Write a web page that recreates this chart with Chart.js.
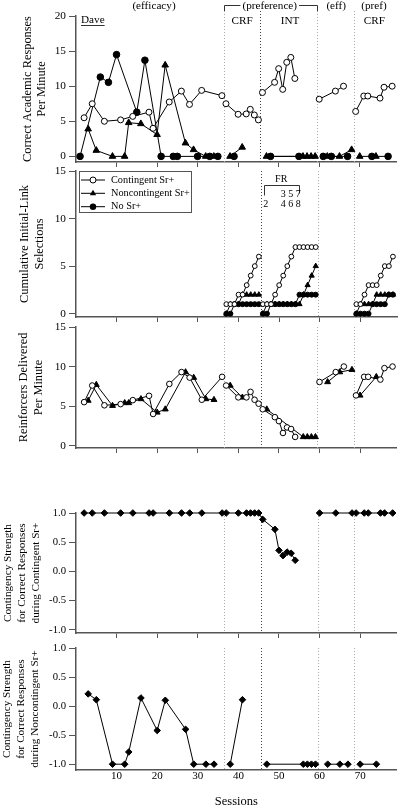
<!DOCTYPE html>
<html><head><meta charset="utf-8">
<script src="https://cdn.jsdelivr.net/npm/chart.js@4.4.1/dist/chart.umd.min.js"></script>
<style>
html,body{margin:0;padding:0;background:#fff;overflow:hidden;width:401px;height:805px;}
canvas{position:absolute;left:0;}
</style></head><body>
<canvas id="c1"></canvas><canvas id="c2"></canvas><canvas id="c3"></canvas><canvas id="c4"></canvas><canvas id="c5"></canvas>
<script>
// ---------- DATA ----------
const sessionTicks = [10,20,30,40,50,60,70];
const phaseLines = [36.5,45.5,59.5,68.5];
const rateTicks = [0,5,10,15,20];
const countTicks = [0,5,10,15];
const strengthTicks = [-1,-0.5,0,0.5,1];
const strengthTickLabels = ['-1.0','-0.5','0.0','0.5','1.0'];

// Panel 1: correct academic responses per minute
const rateContSessions = [2,4,7,11,14,18,19,23,26,28,31,36, 37,40,42,43,44,45, 46,49,50,51,52,53,54, 60,64,66, 69,71,72,75,76,78];
const rateContValues   = [5.5,7.5,5.0,5.2,5.7,6.3,4.0,7.75,9.3,7.4,9.4,8.65, 7.5,6.0,6.05,6.7,5.9,5.2, 9.1,10.55,12.5,9.55,13.4,14.1,11.1, 8.15,9.3,10.0, 6.4,8.6,8.6,8.3,9.85,10.0];
const rateNcSessions = [3,5,9,12,13,16,20,22,27,29,32,34, 38,41, 47,56,57,58,59, 62,65,68, 70,74];
const rateNcValues   = [3.9,0.85,0,0,4.8,4.65,3.1,13.0,1.9,0.95,0,0, 0,1.3, 0,0,0,0,0, 0,0,0.95, 0,0];
const rateNoSessions = [1,6,8,10,15,17,21,24,25,30,33,35, 39, 48,55, 61,63,67, 73,77];
const rateNoValues   = [0,11.3,10.55,14.5,6.3,13.7,0,0,0,0,0,0, 0, 0,0, 0,0,0, 0,0];

// Panel 2: cumulative initial-link selections
const cumSessions = [37,38,39,40,41,42,43,44,45, 46,47,48,49,50,51,52,53,54,55,56,57,58,59, 69,70,71,72,73,74,75,76,77,78];
const cumContValues = [1,1,1,2,2,3,4,5,6, 1,1,1,2,3,4,5,6,7,7,7,7,7,7, 1,1,2,3,3,3,4,5,5,6];
const cumNcValues   = [0,1,1,1,2,2,2,2,2, 0,1,1,1,1,1,1,1,1,1,2,3,4,5, 0,1,1,1,1,2,2,2,2,2];
const cumNoValues   = [0,0,1,1,1,1,1,1,1, 0,0,1,1,1,1,1,1,1,2,2,2,2,2, 0,0,0,0,1,1,1,1,2,2];

// Panel 3: reinforcers delivered per minute
const rfContSessions = [2,4,7,11,14,18,19,23,26,28,31,36, 37,40,42,43,44,45, 46,49,50,51,52,53,54, 60,64,66, 69,71,72,75,76,78];
const rfContValues   = [5.5,7.6,5.1,5.25,5.75,6.3,4.0,7.8,9.3,8.6,5.8,8.7, 7.6,6.1,6.1,6.8,5.8,5.3, 4.6,3.6,3.1,1.6,2.3,2.1,1.1, 8.05,9.3,10.0, 6.35,8.7,8.7,8.35,9.8,10.0];
const rfNcSessions = [3,5,9,12,13,16,20,22,27,29,32,34, 38,41, 47,56,57,58,59, 62,65,68, 70,74];
const rfNcValues   = [5.7,7.7,5.05,5.4,5.4,5.9,4.2,4.6,9.3,8.6,5.9,5.8, 7.6,6.1, 4.6,1.1,1.1,1.1,1.1, 8.05,9.3,9.6, 6.35,8.7];

// Panel 4: contingency strength during contingent Sr+
const csContSessions = [2,4,7,11,14,18,19,23,26,28,31,36,37,40,42,43,44,45, 46,49,50,51,52,53,54, 60,64,68,69,71,72,75,76,78];
const csContValues   = [1,1,1,1,1,1,1,1,1,1,1,1,1,1,1,1,1,1, 0.89,0.72,0.36,0.27,0.33,0.31,0.19, 1,1,1,1,1,1,1,1,1];

// Panel 5: contingency strength during noncontingent Sr+
const csNcSessions = [3,5,9,12,13,16,20,22,27,29,32,34, 38,41, 47,56,57,58,59, 62,65,67, 70,74];
const csNcValues   = [0.21,0.11,-1,-1,-0.79,0.14,-0.42,0.1,-0.4,-1,-1,-1, -1,0.11, -1,-1,-1,-1,-1, -1,-1,-1, -1,-1];

// ---------- HELPERS ----------
const SERIF = "'Liberation Serif','Times New Roman',Times,serif";
const AXIS = '#555';

function pts(sessions, values, breaks){
  const out = [];
  for (let i=0;i<sessions.length;i++){
    if (i>0 && breaks.some(b => sessions[i-1] < b && sessions[i] > b)) out.push({x:(sessions[i-1]+sessions[i])/2, y:null});
    out.push({x:sessions[i], y:values[i]});
  }
  return out;
}
function ds(data, kind, r){
  const base = {data, borderColor:'#000', borderWidth:1, tension:0, clip:false, pointBorderColor:'#000', pointBorderWidth:1, pointHoverRadius:r, spanGaps:false};
  if (kind==='open') return Object.assign(base,{pointStyle:'circle', pointRadius:r, pointBackgroundColor:'#fff'});
  if (kind==='fill') return Object.assign(base,{pointStyle:'circle', pointRadius:r, pointBackgroundColor:'#000'});
  if (kind==='tri') return Object.assign(base,{pointStyle:'triangle', pointRadius:r, pointBackgroundColor:'#000'});
  return Object.assign(base,{pointStyle:'rectRot', pointRadius:r, pointBackgroundColor:'#000'});
}
const phaseColors = ['#aaa','#444','#aaa','#aaa'];
function phasePlugin(extendTop){
  return {id:'phase', beforeDatasetsDraw(chart){
    const {ctx, chartArea, scales:{x}} = chart;
    ctx.save(); ctx.setLineDash([1,2]); ctx.lineWidth = 1;
    phaseLines.forEach((b,i)=>{
      const px = Math.round(x.getPixelForValue(b)) + 0.5;
      ctx.strokeStyle = phaseColors[i];
      ctx.beginPath(); ctx.moveTo(px, extendTop !== undefined ? extendTop : chartArea.top); ctx.lineTo(px, chartArea.bottom); ctx.stroke();
    });
    ctx.restore();
  }};
}

function makePanel(id, top, height, cfg){
  const cv = document.getElementById(id);
  cv.width = 401; cv.height = height;
  cv.style.top = top + 'px'; cv.style.width = '401px'; cv.style.height = height + 'px';
  return new Chart(cv, {
    type:'line',
    data:{datasets: cfg.datasets},
    options:{
      responsive:false, animation:false, devicePixelRatio:1,
      layout:{padding:{top:cfg.padTop, left:0, right:0, bottom:0}},
      plugins:{legend:{display:false}, tooltip:{enabled:false}},
      scales:{
        x:{type:'linear', min:0, max:79,
           afterFit: s => { s.height = cfg.xh; },
           afterBuildTicks: s => { s.ticks = sessionTicks.map(v => ({value:v})); },
           grid:{display:true, drawOnChartArea:false, drawTicks:cfg.xTickMarks, tickLength:5, color:AXIS, lineWidth:1},
           border:{display:true, color:AXIS, width:1.5},
           ticks:{display:!!cfg.xLabels, font:{family:SERIF, size:11}, color:'#000', padding:0, maxRotation:0, autoSkip:false},
           title:{display:!!cfg.xTitle, text:cfg.xTitle || '', font:{family:SERIF, size:12.5, lineHeight:1.2}, color:'#000', padding:0}
        },
        y:{type:'linear', min:cfg.yMin, max:cfg.yMax,
           afterFit: s => { s.width = 76; },
           afterBuildTicks: s => { s.ticks = cfg.yTicks.map(v => ({value:v})); },
           grid:{display:true, drawOnChartArea:false, drawTicks:true, tickLength:7, color:AXIS, lineWidth:1},
           border:{display:true, color:AXIS, width:1.5},
           ticks:{font:{family:SERIF, size:cfg.tickSize}, color:'#000', padding:3, callback: cfg.yFmt || (v => String(v))},
           title:{display:true, text:cfg.yTitle, font:{family:SERIF, size:cfg.titleSize, lineHeight:cfg.titleLH}, color:'#000', padding:{top:cfg.titlePad, bottom:0}}
        }
      }
    },
    plugins:[phasePlugin(cfg.phaseTop)].concat(cfg.extra || [])
  });
}

// ---------- ANNOTATION PLUGINS ----------
const headerPlugin = {id:'header', afterDraw(chart){
  const {ctx, scales:{x}} = chart;
  const X = v => x.getPixelForValue(v);
  ctx.save();
  ctx.fillStyle = '#000'; ctx.font = '11.2px ' + SERIF; ctx.textBaseline = 'middle'; ctx.textAlign = 'center';
  ctx.fillText('(efficacy)', X(19.25), 6);
  const pc = X(47.8);
  ctx.fillText('(preference)', pc, 6);
  const w = ctx.measureText('(preference)').width;
  ctx.strokeStyle = '#333'; ctx.lineWidth = 1;
  const l = Math.round(X(36.5)) + 0.5, r = Math.round(X(59.5)) + 0.5;
  ctx.beginPath();
  ctx.moveTo(l, 11); ctx.lineTo(l, 5.5); ctx.lineTo(pc - w/2 - 2, 5.5);
  ctx.moveTo(pc + w/2 + 2, 5.5); ctx.lineTo(r, 5.5); ctx.lineTo(r, 11);
  ctx.stroke();
  ctx.fillText('(eff)', X(64.2), 6);
  ctx.fillText('(pref)', X(73.5), 6);
  ctx.fillText('CRF', X(41), 21);
  ctx.fillText('INT', X(52.8), 21);
  ctx.fillText('CRF', X(73.6), 21);
  ctx.textAlign = 'left';
  ctx.fillText('Dave', 81, 20);
  const dw = ctx.measureText('Dave').width;
  ctx.beginPath(); ctx.moveTo(81, 25.5); ctx.lineTo(81 + dw, 25.5); ctx.stroke();
  ctx.restore();
}};

const legendItems = ['Contingent Sr+','Noncontingent Sr+','No Sr+'];
const legendPlugin = {id:'legendBox', afterDraw(chart){
  const {ctx, scales:{x}} = chart;
  const X = v => x.getPixelForValue(v);
  ctx.save();
  // legend box
  ctx.strokeStyle = '#555'; ctx.lineWidth = 1;
  ctx.strokeRect(79.5, 171.5 - 155, 112, 41);
  const rows = [180, 193.3, 206.7].map(v => v - 155);
  ctx.font = '10.3px ' + SERIF; ctx.textBaseline = 'middle'; ctx.textAlign = 'left'; ctx.fillStyle = '#000';
  rows.forEach((y, i) => {
    ctx.strokeStyle = '#000';
    ctx.beginPath(); ctx.moveTo(81, y); ctx.lineTo(105, y); ctx.stroke();
    const cx = 93;
    ctx.beginPath();
    if (i === 0) { ctx.arc(cx, y, 3, 0, Math.PI*2); ctx.fillStyle = '#fff'; ctx.fill(); ctx.stroke(); }
    else if (i === 1) { ctx.moveTo(cx, y-3.6); ctx.lineTo(cx+3.2, y+2); ctx.lineTo(cx-3.2, y+2); ctx.closePath(); ctx.fillStyle = '#000'; ctx.fill(); }
    else { ctx.arc(cx, y, 3.2, 0, Math.PI*2); ctx.fillStyle = '#000'; ctx.fill(); }
    ctx.fillStyle = '#000';
    ctx.fillText(legendItems[i], 111, y);
  });
  // FR annotation
  ctx.font = '10px ' + SERIF; ctx.textAlign = 'center';
  ctx.fillText('FR', X(50.5), 179 - 155);
  const bl = Math.round(X(46.35)) + 0.5, br = Math.round(X(54.85)) + 0.5, by = 185.5 - 155;
  ctx.strokeStyle = '#333';
  ctx.beginPath(); ctx.moveTo(bl, by + 10); ctx.lineTo(bl, by); ctx.lineTo(br, by); ctx.lineTo(br, by + 8); ctx.stroke();
  ctx.textAlign = 'left';
  ctx.fillText('3 5 7', X(50.4), 194.5 - 155);
  ctx.fillText('4 6 8', X(50.4), 204.5 - 155);
  ctx.textAlign = 'center';
  ctx.fillText('2', X(46.7), 204.5 - 155);
  ctx.restore();
}};

// ---------- PANELS ----------
const B = phaseLines;
makePanel('c1', 0, 176, {
  padTop:16, xh:14, xTickMarks:true, yMin:-0.8, yMax:20, yTicks:rateTicks, tickSize:11.3,
  yTitle:['Correct Academic Responses','Per Minute'], titleSize:12.4, titleLH:1.12, titlePad:21, phaseTop:11,
  datasets:[
    ds(pts(rateContSessions, rateContValues, B), 'open', 3),
    ds(pts(rateNcSessions, rateNcValues, B), 'tri', 3.8),
    ds(pts(rateNoSessions, rateNoValues, B), 'fill', 3.3)
  ],
  extra:[headerPlugin]
});
makePanel('c2', 155, 176, {
  padTop:16, xh:14, xTickMarks:true, yMin:-0.35, yMax:15, yTicks:countTicks, tickSize:11.3,
  yTitle:['Cumulative Initial-Link','Selections'], titleSize:12.4, titleLH:1.2, titlePad:17.5,
  datasets:[
    ds(pts(cumSessions, cumContValues, B), 'open', 2.4),
    ds(pts(cumSessions, cumNcValues, B), 'tri', 3),
    ds(pts(cumSessions, cumNoValues, B), 'fill', 2.5)
  ],
  extra:[legendPlugin]
});
makePanel('c3', 312, 150, {
  padTop:15, xh:14, xTickMarks:true, yMin:-0.3, yMax:15, yTicks:countTicks, tickSize:11.3,
  yTitle:['Reinforcers Delivered','Per Minute'], titleSize:12.4, titleLH:1.28, titlePad:15.4,
  datasets:[
    ds(pts(rfContSessions, rfContValues, B), 'open', 2.8),
    ds(pts(rfNcSessions, rfNcValues, B), 'tri', 3.4)
  ]
});
makePanel('c4', 495, 152, {
  padTop:18, xh:14, xTickMarks:true, yMin:-1.056, yMax:1, yTicks:strengthTicks, tickSize:10.7,
  yFmt: v => strengthTickLabels[strengthTicks.indexOf(v)],
  yTitle:['Contingency Strength','for Correct Responses','during Contingent Sr+'], titleSize:11.2, titleLH:1.25, titlePad:1.3,
  datasets:[ ds(pts(csContSessions, csContValues, [59.5]), 'dia', 3.3) ]
});
makePanel('c5', 630, 179, {
  padTop:18, xh:39, xTickMarks:false, xLabels:true, xTitle:'Sessions', yMin:-1.1, yMax:1, yTicks:strengthTicks, tickSize:10.7,
  yFmt: v => strengthTickLabels[strengthTicks.indexOf(v)],
  yTitle:['Contingency Strength','for Correct Responses','during Noncontingent Sr+'], titleSize:11.2, titleLH:1.25, titlePad:0,
  datasets:[ ds(pts(csNcSessions, csNcValues, B), 'dia', 3.3) ]
});
</script>
</body></html>
